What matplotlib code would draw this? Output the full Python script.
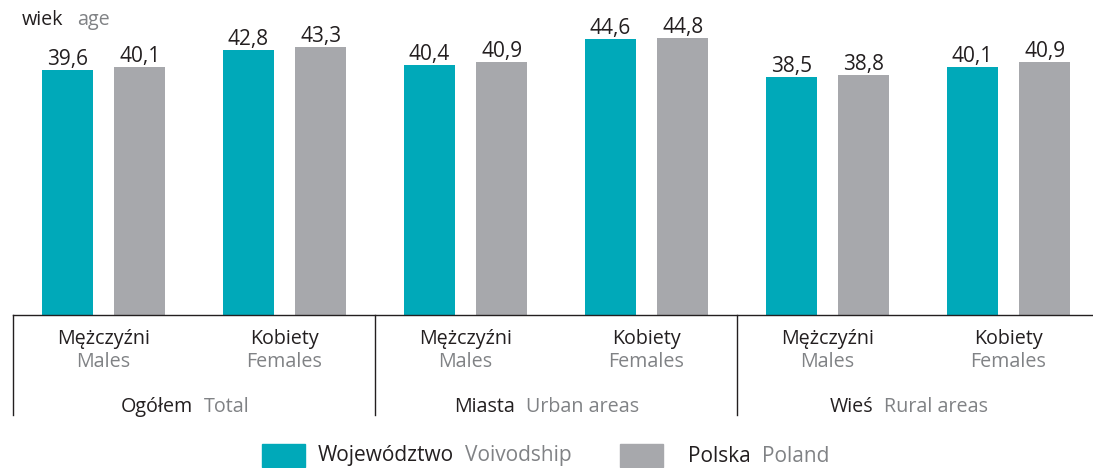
import matplotlib.pyplot as plt
import matplotlib.transforms as mtransforms
from matplotlib.offsetbox import TextArea, HPacker, AnnotationBbox
from matplotlib.patches import Rectangle

plt.rcParams['font.family'] = ['Open Sans', 'DejaVu Sans']

# data
sections = [("Ogółem", "Total"), ("Miasta", "Urban areas"), ("Wieś", "Rural areas")]
sexes = [("Mężczyźni", "Males"), ("Kobiety", "Females")]
voivodship = [39.6, 42.8, 40.4, 44.6, 38.5, 40.1]
poland = [40.1, 43.3, 40.9, 44.8, 38.8, 40.9]

TEAL = '#00A9B9'
GRAY = '#A7A8AC'
DARK = '#231F20'
LIGHT = '#808285'
FS = 14.2
FS_VAL = 15
FS_LEG = 15

W, H = 1093, 468
fig = plt.figure(figsize=(W / 100, H / 100), dpi=100)
ax = fig.add_axes([13 / W, (H - 315) / H, 1 - 13 / W, 295 / H])

n = len(voivodship)
xs = list(range(n))
bw = 0.28
off = 0.2
b1 = ax.bar([x - off for x in xs], voivodship, bw, color=TEAL)
b2 = ax.bar([x + off for x in xs], poland, bw, color=GRAY)

def fmt(v):
    return f"{v:.1f}".replace('.', ',')

for bars, vals in ((b1, voivodship), (b2, poland)):
    for b, v in zip(bars, vals):
        ax.annotate(fmt(v), (b.get_x() + b.get_width() / 2, v),
                    xytext=(0, 0), textcoords='offset points',
                    ha='center', va='bottom', fontsize=FS_VAL, color=DARK)

ax.set_xlim(-0.5, -0.5 + 1080 / 181)
ax.set_ylim(0, 47.7)
ax.set_xticks([])
ax.set_yticks([])
for s in ('top', 'left', 'right'):
    ax.spines[s].set_visible(False)
ax.spines['bottom'].set_color(DARK)
ax.spines['bottom'].set_linewidth(1.0)

trans = mtransforms.blended_transform_factory(ax.transData, ax.transAxes)
for k in range(len(sections)):
    xb = 2 * k - 0.5
    ax.plot([xb, xb], [0, -0.339], color=DARK, lw=1.0, transform=trans, clip_on=False)

# sex labels
for i in xs:
    pl, en = sexes[i % 2]
    ax.text(i, -0.081, pl, transform=trans, ha='center', va='center', fontsize=FS, color=DARK)
    ax.text(i, -0.159, en, transform=trans, ha='center', va='center', fontsize=FS, color=LIGHT)

def two_tone(xy, a, b, xycoords, align=(0.5, 0.5), sep=8, fs=FS):
    box = HPacker(children=[TextArea(a, textprops=dict(fontsize=fs, color=DARK)),
                            TextArea(b, textprops=dict(fontsize=fs, color=LIGHT))],
                  align='baseline', pad=0, sep=sep)
    ab = AnnotationBbox(box, xy, xycoords=xycoords, frameon=False,
                        box_alignment=align, pad=0, annotation_clip=False)
    fig.add_artist(ab)

for k, (pl, en) in enumerate(sections):
    two_tone((2 * k + 0.45, -0.312), pl, en, trans)

two_tone((22 / W, 1 - 20 / H), "wiek", "age", 'figure fraction', align=(0, 0.5), sep=10)

# legend
leg = [(TEAL, "Województwo", "Voivodship", 262, 318), (GRAY, "Polska", "Poland", 620, 688)]
for col, pl, en, x0, xt in leg:
    fig.add_artist(Rectangle((x0 / W, 1 - 467 / H), 43 / W, 23 / H,
                             transform=fig.transFigure, color=col))
    two_tone((xt / W, 1 - 456 / H), pl, en, 'figure fraction', align=(0, 0.5), fs=FS_LEG)

fig.savefig('out.png', dpi=100)
